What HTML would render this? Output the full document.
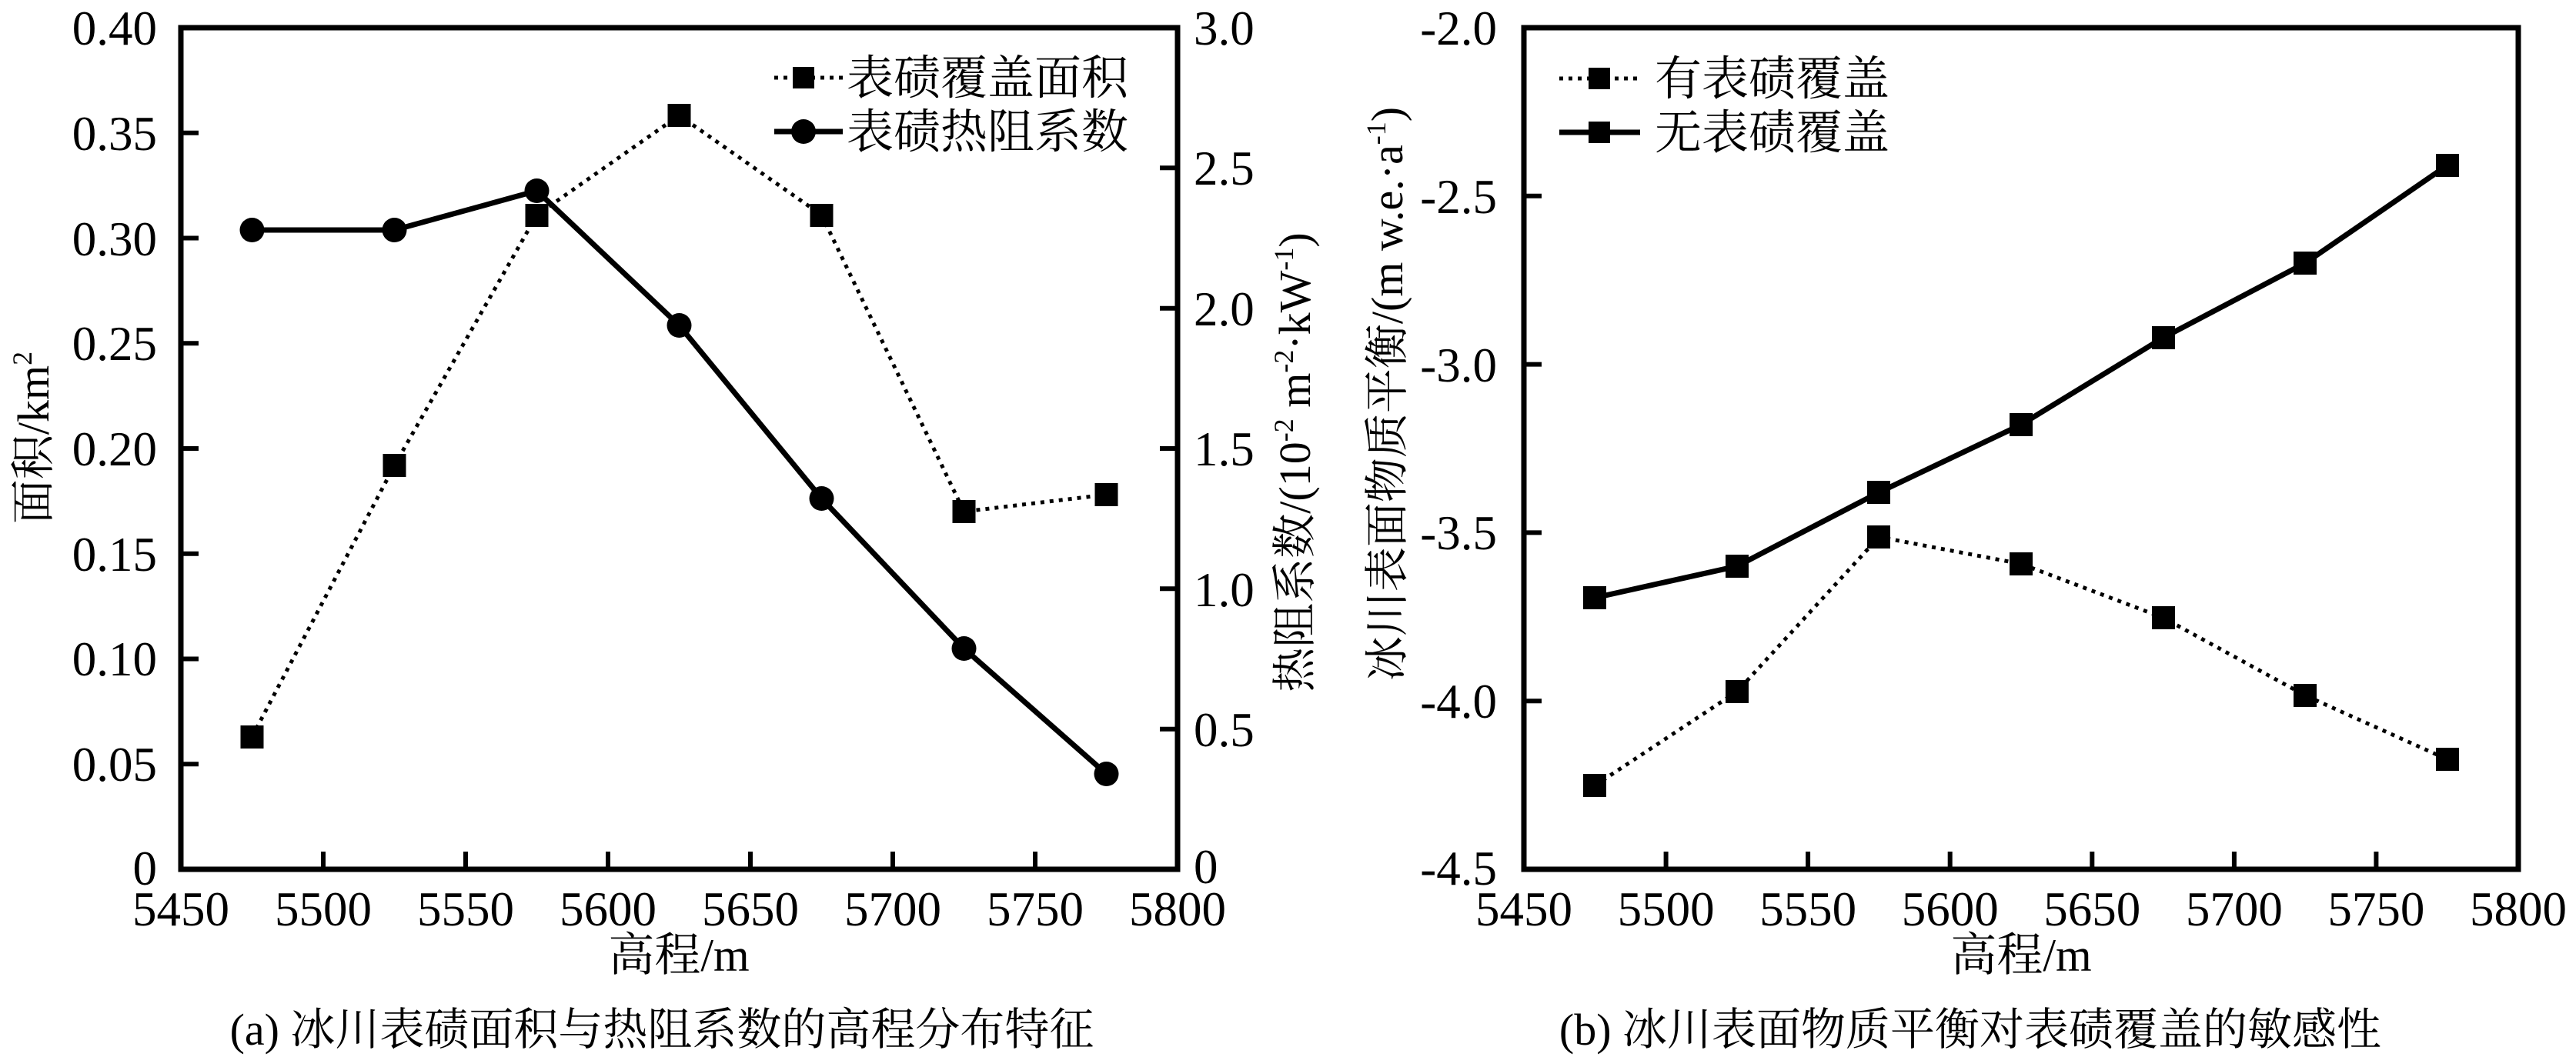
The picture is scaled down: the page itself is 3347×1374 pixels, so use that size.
<!DOCTYPE html>
<html><head><meta charset="utf-8"><style>
html,body{margin:0;padding:0;background:#fff;}
svg{display:block;}
text{font-family:"Liberation Serif","Noto Serif CJK SC","Noto Sans CJK SC",serif;fill:#000;}
</style></head><body>
<svg width="3347" height="1374" viewBox="0 0 3347 1374" xmlns="http://www.w3.org/2000/svg">
<g stroke="#000" fill="none" stroke-width="7">
<rect x="235" y="36" width="1295" height="1094"/>
<rect x="1980" y="36" width="1292" height="1094"/>
</g>
<g stroke="#000" stroke-width="6">
<line x1="235" y1="993.25" x2="258" y2="993.25"/><line x1="235" y1="856.5" x2="258" y2="856.5"/>
<line x1="235" y1="719.75" x2="258" y2="719.75"/><line x1="235" y1="583" x2="258" y2="583"/>
<line x1="235" y1="446.25" x2="258" y2="446.25"/><line x1="235" y1="309.5" x2="258" y2="309.5"/>
<line x1="235" y1="172.75" x2="258" y2="172.75"/>
<line x1="1507" y1="947.7" x2="1530" y2="947.7"/><line x1="1507" y1="765.3" x2="1530" y2="765.3"/>
<line x1="1507" y1="583" x2="1530" y2="583"/><line x1="1507" y1="400.7" x2="1530" y2="400.7"/>
<line x1="1507" y1="218.3" x2="1530" y2="218.3"/>
<line x1="420" y1="1130" x2="420" y2="1107"/><line x1="605" y1="1130" x2="605" y2="1107"/>
<line x1="790" y1="1130" x2="790" y2="1107"/><line x1="975" y1="1130" x2="975" y2="1107"/>
<line x1="1160" y1="1130" x2="1160" y2="1107"/><line x1="1345" y1="1130" x2="1345" y2="1107"/>
<line x1="1980" y1="254.8" x2="2003" y2="254.8"/><line x1="1980" y1="473.6" x2="2003" y2="473.6"/>
<line x1="1980" y1="692.4" x2="2003" y2="692.4"/><line x1="1980" y1="911.2" x2="2003" y2="911.2"/>
<line x1="2164.6" y1="1130" x2="2164.6" y2="1107"/><line x1="2349.1" y1="1130" x2="2349.1" y2="1107"/>
<line x1="2533.7" y1="1130" x2="2533.7" y2="1107"/><line x1="2718.3" y1="1130" x2="2718.3" y2="1107"/>
<line x1="2902.9" y1="1130" x2="2902.9" y2="1107"/><line x1="3087.4" y1="1130" x2="3087.4" y2="1107"/>
</g>

<polyline fill="none" stroke="#000" stroke-width="5" stroke-dasharray="5,7"
 points="327.5,957.7 512.5,605 697.5,279.5 882.5,150 1067.5,279.5 1252.5,665 1437.5,643"/>
<polyline fill="none" stroke="#000" stroke-width="7"
 points="327.5,299 512.5,299 697.5,248 882.5,423 1067.5,648 1252.5,843 1437.5,1006"/>
<g fill="#000">
<rect x="312.5" y="943" width="30" height="30"/><rect x="497.5" y="590" width="30" height="30"/>
<rect x="682.5" y="265" width="30" height="30"/><rect x="867.5" y="135" width="30" height="30"/>
<rect x="1052.5" y="265" width="30" height="30"/><rect x="1237.5" y="650" width="30" height="30"/>
<rect x="1422.5" y="628" width="30" height="30"/>
<circle cx="327.5" cy="299" r="16"/><circle cx="512.5" cy="299" r="16"/>
<circle cx="697.5" cy="248" r="16"/><circle cx="882.5" cy="423" r="16"/>
<circle cx="1067.5" cy="648" r="16"/><circle cx="1252.5" cy="843" r="16"/>
<circle cx="1437.5" cy="1006" r="16"/>
</g>
<line x1="1006" y1="101" x2="1095" y2="101" stroke="#000" stroke-width="5" stroke-dasharray="5,7"/>
<rect x="1030" y="87" width="28" height="28" fill="#000"/>
<line x1="1006" y1="171" x2="1095" y2="171" stroke="#000" stroke-width="7"/>
<circle cx="1044" cy="171" r="16" fill="#000"/>
<text x="1100" y="122" font-size="61">表碛覆盖面积</text>
<text x="1100" y="192" font-size="61">表碛热阻系数</text>

<polyline fill="none" stroke="#000" stroke-width="5" stroke-dasharray="5,7"
 points="2072.3,1021 2256.9,899 2441.4,698 2626,733 2810.6,803 2995.1,904 3179.7,987"/>
<polyline fill="none" stroke="#000" stroke-width="7"
 points="2072.3,777 2256.9,736 2441.4,640 2626,552 2810.6,439 2995.1,342 3179.7,215"/>
<g fill="#000">
<rect x="2057" y="1006" width="30" height="30"/><rect x="2242" y="884" width="30" height="30"/>
<rect x="2426" y="683" width="30" height="30"/><rect x="2611" y="718" width="30" height="30"/>
<rect x="2796" y="788" width="30" height="30"/><rect x="2980" y="889" width="30" height="30"/>
<rect x="3165" y="972" width="30" height="30"/>
<rect x="2057" y="762" width="30" height="30"/><rect x="2242" y="721" width="30" height="30"/>
<rect x="2426" y="625" width="30" height="30"/><rect x="2611" y="537" width="30" height="30"/>
<rect x="2796" y="424" width="30" height="30"/><rect x="2980" y="327" width="30" height="30"/>
<rect x="3165" y="200" width="30" height="30"/>
</g>
<line x1="2026" y1="102" x2="2131" y2="102" stroke="#000" stroke-width="5" stroke-dasharray="5,7"/>
<rect x="2064" y="88" width="28" height="28" fill="#000"/>
<line x1="2026" y1="172" x2="2131" y2="172" stroke="#000" stroke-width="7"/>
<rect x="2064" y="158" width="28" height="28" fill="#000"/>
<text x="2150" y="123" font-size="61">有表碛覆盖</text>
<text x="2150" y="193" font-size="61">无表碛覆盖</text>

<g font-size="63" text-anchor="end">
<text x="204" y="58">0.40</text><text x="204" y="195">0.35</text><text x="204" y="332">0.30</text>
<text x="204" y="468">0.25</text><text x="204" y="605">0.20</text><text x="204" y="742">0.15</text>
<text x="204" y="878">0.10</text><text x="204" y="1015">0.05</text><text x="204" y="1150">0</text>
</g>
<g font-size="63" text-anchor="start">
<text x="1551" y="58">3.0</text><text x="1551" y="240">2.5</text><text x="1551" y="423">2.0</text>
<text x="1551" y="605">1.5</text><text x="1551" y="788">1.0</text><text x="1551" y="970">0.5</text>
<text x="1551" y="1148">0</text>
</g>
<g font-size="63" text-anchor="middle">
<text x="235" y="1203">5450</text><text x="420" y="1203">5500</text><text x="605" y="1203">5550</text>
<text x="790" y="1203">5600</text><text x="975" y="1203">5650</text><text x="1160" y="1203">5700</text>
<text x="1345" y="1203">5750</text><text x="1530" y="1203">5800</text>
</g>
<g font-size="63" text-anchor="end">
<text x="1945" y="58">-2.0</text><text x="1945" y="277">-2.5</text><text x="1945" y="496">-3.0</text>
<text x="1945" y="714">-3.5</text><text x="1945" y="933">-4.0</text><text x="1945" y="1150">-4.5</text>
</g>
<g font-size="63" text-anchor="middle">
<text x="1980" y="1203">5450</text><text x="2164.6" y="1203">5500</text><text x="2349.1" y="1203">5550</text>
<text x="2533.7" y="1203">5600</text><text x="2718.3" y="1203">5650</text><text x="2902.9" y="1203">5700</text>
<text x="3087.4" y="1203">5750</text><text x="3272" y="1203">5800</text>
</g>

<text transform="translate(63,569) rotate(-90)" font-size="58" text-anchor="middle">面积/km<tspan font-size="36" dy="-22">2</tspan></text>
<text transform="translate(1702,601) rotate(-90)" font-size="58" text-anchor="middle">热阻系数/(10<tspan font-size="36" dy="-22">-2</tspan><tspan dy="22"> m</tspan><tspan font-size="36" dy="-22">-2</tspan><tspan dy="22">·kW</tspan><tspan font-size="36" dy="-22">-1</tspan><tspan dy="22">)</tspan></text>
<text transform="translate(1822,512) rotate(-90)" font-size="58" text-anchor="middle">冰川表面物质平衡/(m w.e.·a<tspan font-size="36" dy="-22">-1</tspan><tspan dy="22">)</tspan></text>
<text x="882" y="1262" font-size="60" text-anchor="middle">高程/m</text>
<text x="2626" y="1262" font-size="60" text-anchor="middle">高程/m</text>
<text x="860" y="1358" font-size="58" text-anchor="middle">(a) 冰川表碛面积与热阻系数的高程分布特征</text>
<text x="2560" y="1358" font-size="58" text-anchor="middle">(b) 冰川表面物质平衡对表碛覆盖的敏感性</text>
</svg>
</body></html>
